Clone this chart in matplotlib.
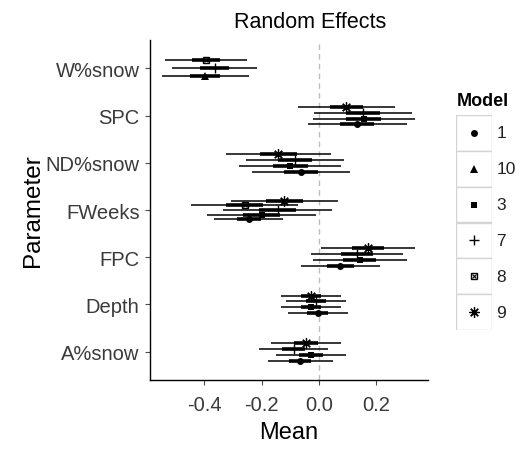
import numpy as np
import matplotlib.pyplot as plt
from matplotlib.patches import Rectangle

plt.rcParams['font.family'] = ['Liberation Sans', 'DejaVu Sans']

nan = np.nan
params = ["W%snow", "SPC", "ND%snow", "FWeeks", "FPC", "Depth", "A%snow"]

# estimates and half width of the 95% interval, per model (nan = not in model)
est_1 = [nan, 0.133, -0.063, -0.245, 0.074, -0.005, -0.066]
hw_1 = [nan, 0.173, 0.170, 0.120, 0.137, 0.105, 0.114]
est_10 = [-0.397, nan, nan, nan, nan, nan, nan]
hw_10 = [0.151, nan, nan, nan, nan, nan, nan]
est_3 = [nan, 0.156, -0.101, -0.200, 0.141, -0.028, -0.028]
hw_3 = [nan, 0.178, 0.178, 0.190, 0.164, 0.105, 0.123]
est_7 = [-0.364, 0.153, -0.084, -0.145, 0.133, -0.011, -0.089]
hw_7 = [0.149, 0.170, 0.172, 0.190, 0.161, 0.105, 0.120]
est_8 = [-0.396, nan, nan, -0.260, nan, nan, nan]
hw_8 = [0.143, nan, nan, 0.186, nan, nan, nan]
est_9 = [nan, 0.095, -0.142, -0.121, 0.171, -0.028, -0.046]
hw_9 = [nan, 0.170, 0.184, 0.187, 0.164, 0.105, 0.123]

legend_models = ["1", "10", "3", "7", "8", "9"]
dodge_order = ["9", "8", "7", "3", "10", "1"]
data = {"1": (est_1, hw_1), "10": (est_10, hw_10), "3": (est_3, hw_3),
        "7": (est_7, hw_7), "8": (est_8, hw_8), "9": (est_9, hw_9)}


def draw_marker(ax, x, y, model, s=5.0, **kw):
    if model == "1":
        ax.plot(x, y, "o", color="black", ms=s, mew=0, **kw)
    elif model == "10":
        ax.plot(x, y, "^", color="black", ms=s + 0.5, mew=0, **kw)
    elif model == "3":
        ax.plot(x, y, "s", color="black", ms=s - 0.5, mew=0, **kw)
    elif model == "7":
        ax.plot(x, y, "+", color="black", ms=s + 2.5, mew=1.0, **kw)
    elif model == "8":
        ax.plot(x, y, "s", mfc="none", mec="black", ms=s, mew=1.0, **kw)
        ax.plot(x, y, "x", color="black", ms=s - 1.5, mew=0.8, **kw)
    elif model == "9":
        ax.plot(x, y, marker=(8, 2, 0), color="black", ms=s + 2.5, mew=0.9, **kw)


fig = plt.figure(figsize=(5.26, 4.52), dpi=100)
ax = fig.add_axes([150 / 526, 1 - 381 / 452, 278 / 526, 340 / 452])

w = 0.5
ax.axvline(0, color="#bdbdbd", lw=1, ls=(0, (4, 3)), zorder=0)
for i, p in enumerate(params):
    present = [m for m in dodge_order if not np.isnan(data[m][0][i])]
    n = len(present)
    for j, m in enumerate(present):
        y = i - w / 2 + w / n * (j + 0.5)
        e = data[m][0][i]
        se = data[m][1][i] / 1.96
        ax.plot([e - 1.96 * se, e + 1.96 * se], [y, y], color="black", lw=1.1, solid_capstyle="butt")
        ax.plot([e - 0.674 * se, e + 0.674 * se], [y, y], color="black", lw=2.6, solid_capstyle="butt")
        draw_marker(ax, e, y, m)

ax.set_xlim(-0.59, 0.38)
ax.set_ylim(len(params) - 1 + 0.6, -0.6)
ax.set_yticks(range(len(params)))
ax.set_yticklabels(params)
ax.set_xticks([-0.4, -0.2, 0.0, 0.2])
ax.set_xticklabels(["-0.4", "-0.2", "0.0", "0.2"])
ax.tick_params(labelsize=14.5, colors="#4d4d4d", length=3.5, width=0.8, pad=4,
               labelcolor="#3a3a3a")
ax.tick_params(axis="x", pad=7)
for s in ["top", "right"]:
    ax.spines[s].set_visible(False)
for s in ["left", "bottom"]:
    ax.spines[s].set_linewidth(1.0)
ax.set_xlabel("Mean", fontsize=17, labelpad=5)
ax.set_ylabel("Parameter", fontsize=17.5, labelpad=1)
fig.text(310 / 526, 1 - 22 / 452, "Random Effects", fontsize=15.5, ha="center", va="center")

# legend
lax = fig.add_axes([456 / 526, 1 - 331 / 452, 36 / 526, 215 / 452])
lax.set_xlim(0, 1)
lax.set_ylim(6, 0)
lax.axis("off")
for k, m in enumerate(legend_models):
    lax.add_patch(Rectangle((0, k), 1, 1, facecolor="white", edgecolor="#d4d4d4", lw=1))
    draw_marker(lax, 0.5, k + 0.5, m)
    lax.text(1.12, k + 0.5, m, fontsize=12.5, va="center", ha="left", color="#222222")
fig.text(457 / 526, 1 - 102 / 452, "Model", fontsize=13, fontweight="bold", va="center", ha="left")

fig.savefig("out.png", dpi=100)
